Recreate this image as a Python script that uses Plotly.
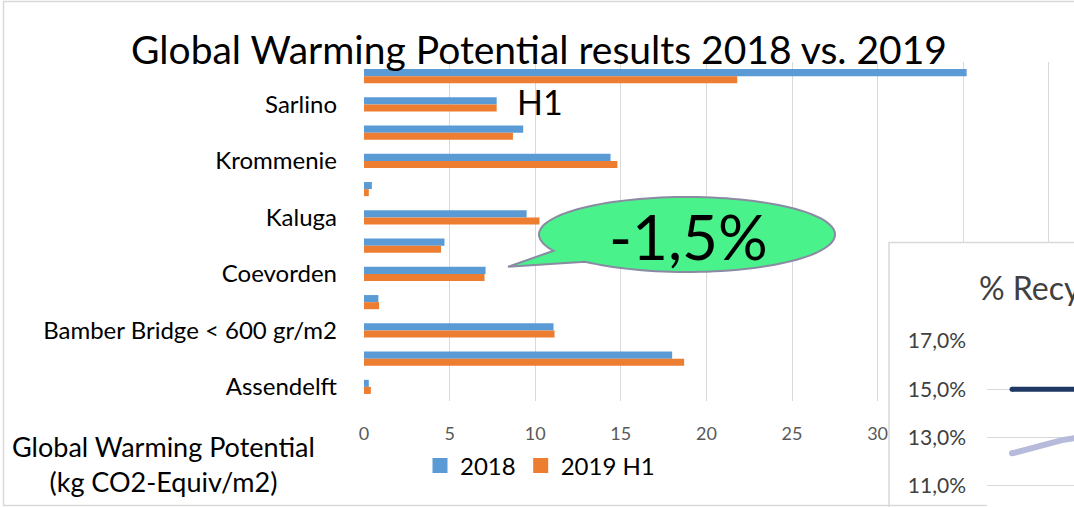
import numpy as np
import plotly.graph_objects as go

W, H = 1074, 507

# ---- data (top to bottom) ----
categories = ["", "Sarlino", "", "Krommenie", "", "Kaluga", "", "Coevorden", "",
              "Bamber Bridge < 600 gr/m2", "", "Assendelft"]
values_2018 = [35.2, 7.75, 9.3, 14.4, 0.46, 9.5, 4.7, 7.1, 0.84, 11.07, 18.0, 0.28]
values_2019 = [21.8, 7.75, 8.7, 14.8, 0.28, 10.25, 4.5, 7.04, 0.88, 11.13, 18.7, 0.40]
series_names = ["2018", "2019 H1"]
x_ticks = [0, 5, 10, 15, 20, 25, 30]
x_minor_grid = [35, 40]

# inset "% Recycled" chart
inset_x = [0, 1, 2]
inset_dark = [0.150, 0.150, 0.150]
inset_light = [0.1235, 0.129, 0.132]
inset_ticks = [0.11, 0.13, 0.15, 0.17]

FONT = "Lato"
BLUE, ORANGE = "#5B9BD5", "#ED7D31"
GRID = "#D9D9D9"

def px(x):
    return x / W

def py(y):
    return 1 - y / H

ypos = list(range(len(categories)))
lab_pos = [i for i, c in enumerate(categories) if c]
lab_txt = [c for c in categories if c]

fig = go.Figure()
for name, vals, col in zip(series_names, [values_2018, values_2019], [BLUE, ORANGE]):
    fig.add_trace(go.Bar(y=ypos, x=vals, name=name, orientation="h", legendgroup=name,
                         showlegend=False,
                         marker=dict(color=col, line=dict(width=0)), xaxis="x", yaxis="y"))
# legend entries with larger square keys
for name, col in zip(series_names, [BLUE, ORANGE]):
    fig.add_trace(go.Scatter(x=[None], y=[None], mode="markers", name=name, legendgroup=name,
                             marker=dict(symbol="square", size=15, color=col),
                             xaxis="x", yaxis="y"))

fig.add_trace(go.Scatter(x=inset_x, y=inset_dark, mode="lines", showlegend=False,
                         line=dict(color="#203864", width=5), xaxis="x2", yaxis="y2",
                         hoverinfo="skip"))
fig.add_trace(go.Scatter(x=inset_x, y=inset_light, mode="lines", showlegend=False,
                         line=dict(color="#B7BADB", width=6), xaxis="x2", yaxis="y2",
                         hoverinfo="skip"))
# round line starts
fig.add_trace(go.Scatter(x=inset_x[:1], y=inset_dark[:1], mode="markers", showlegend=False,
                         marker=dict(color="#203864", size=5), xaxis="x2", yaxis="y2",
                         hoverinfo="skip"))
fig.add_trace(go.Scatter(x=inset_x[:1], y=inset_light[:1], mode="markers", showlegend=False,
                         marker=dict(color="#B7BADB", size=6), xaxis="x2", yaxis="y2",
                         hoverinfo="skip"))

# main plot area geometry (pixels)
X0, X1 = 364, W
PX_PER_UNIT = 17.12
Y_TOP, Y_BOT = 62, 401
n = len(categories)
row_h = (Y_BOT - Y_TOP) / n

fig.update_layout(
    template="none",
    width=W, height=H, autosize=False,
    margin=dict(l=0, r=0, t=0, b=0, pad=0, autoexpand=False),
    paper_bgcolor="white", plot_bgcolor="white",
    separators=",.",
    font=dict(family=FONT, color="black"),
    barmode="group", bargap=0.5, bargroupgap=0,
    xaxis=dict(domain=[px(X0), 1], range=[0, (X1 - X0) / PX_PER_UNIT],
               tickmode="array", tickvals=x_ticks, showgrid=True, gridcolor=GRID, gridwidth=1.3,
               minor=dict(tickmode="array", tickvals=x_minor_grid, showgrid=True,
                          gridcolor=GRID, gridwidth=1.3, ticks=""),
               zeroline=False, showline=False, ticks="", automargin=False,
               tickfont=dict(family=FONT, size=18, color="#595959"),
               ticklabelstandoff=20, anchor="y", fixedrange=True),
    yaxis=dict(domain=[py(Y_BOT), py(Y_TOP)], range=[n - 0.5, -0.5],
               tickmode="array", tickvals=lab_pos, ticktext=lab_txt,
               showgrid=False, zeroline=False, showline=False, ticks="", automargin=False,
               tickfont=dict(family=FONT, size=24, color="black"),
               ticklabelstandoff=26, anchor="x", fixedrange=True),
    xaxis2=dict(domain=[px(987), 1], range=[-0.5, (W - 1012) / 50.0],
                showgrid=False, showticklabels=False, zeroline=False, showline=False,
                automargin=False, anchor="y2", fixedrange=True),
    yaxis2=dict(domain=[0, py(341)], range=[0.11 - (H - 486) / 24.15 * 0.01, 0.17],
                tickmode="array", tickvals=inset_ticks, tickformat=".1%",
                showgrid=True, gridcolor=GRID, gridwidth=1.3, zeroline=False, showline=False,
                ticks="", automargin=False, tickfont=dict(family=FONT, size=21, color="#404040"),
                ticklabelstandoff=20, anchor="x2", fixedrange=True),
    legend=dict(orientation="h", x=px(420), xanchor="left", y=py(466), yanchor="middle",
                font=dict(family=FONT, size=24, color="black"), itemwidth=30,
                bgcolor="rgba(0,0,0,0)", itemclick=False, itemdoubleclick=False),
    showlegend=True,
)

# speech bubble path
cx, cy, rx, ry = 687, 234.5, 148, 37.5
tA, tB = np.deg2rad(154.3), np.deg2rad(133.5 + 360)
ts = np.linspace(tA, tB, 120)
pts = [(cx + rx * np.cos(t), cy + ry * np.sin(t)) for t in ts]
path = "M " + " L ".join(f"{px(x):.5f},{py(y):.5f}" for x, y in pts)
path += f" L {px(508):.5f},{py(266.7):.5f} Z"

shapes = [
    # outer border of the chart
    dict(type="rect", xref="paper", yref="paper", x0=px(3.5), x1=1.05, y0=py(505.5), y1=py(1.5),
         line=dict(color=GRID, width=1.5), fillcolor="rgba(0,0,0,0)", layer="below"),
    # white background of inset chart, hiding main gridlines
    dict(type="rect", xref="x", yref="y",
         x0=(889 - X0) / PX_PER_UNIT, x1=60,
         y0=-0.5 + (242 - Y_TOP) / row_h, y1=n + 5,
         line=dict(width=0), fillcolor="white", layer="between"),
    # inset border
    dict(type="rect", xref="paper", yref="paper", x0=px(889), x1=1.1, y0=-0.1, y1=py(242.5),
         line=dict(color=GRID, width=1.5), fillcolor="rgba(0,0,0,0)", layer="above"),
    # bubble
    dict(type="path", xref="paper", yref="paper", path=path,
         fillcolor="#4AF28B", line=dict(color="#8A8AA3", width=2), layer="above"),
]
fig.update_layout(shapes=shapes)

annotations = [
    dict(text="Global Warming Potential results 2018 vs. 2019", x=px(539), y=py(49),
         font=dict(family=FONT, size=39, color="black")),
    dict(text="H1", x=px(540), y=py(101), font=dict(family=FONT, size=34, color="black")),
    dict(text="Global Warming Potential<br>(kg CO2-Equiv/m2)", x=px(163), y=py(464),
         align="center", font=dict(family=FONT, size=27, color="black")),
    dict(text="-1,5%", x=px(688), y=py(236), font=dict(family=FONT, size=62, color="black")),
    dict(text="% Recycled", x=px(977), y=py(287), xanchor="left",
         font=dict(family=FONT, size=32, color="#404040")),
]
for a in annotations:
    a.setdefault("xanchor", "center")
    a.update(xref="paper", yref="paper", yanchor="middle", showarrow=False)
fig.update_layout(annotations=annotations)

fig.write_html(
    "out.html",
    config={"displayModeBar": False, "responsive": False},
    post_script="document.body.style.margin='0';document.body.style.overflow='hidden';",
)
